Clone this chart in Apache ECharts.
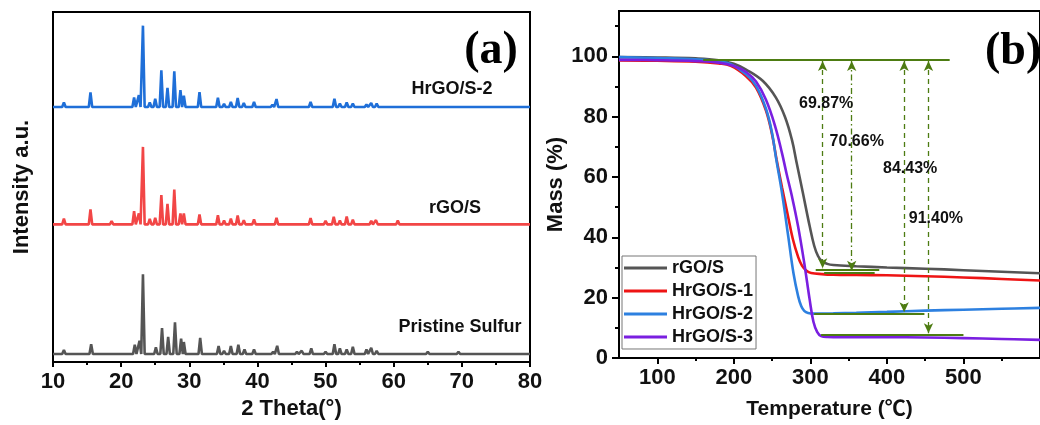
<!DOCTYPE html>
<html>
<head>
<meta charset="utf-8">
<script src="https://cdn.jsdelivr.net/npm/echarts@6/dist/echarts.min.js"></script>
<style>
  html, body { margin: 0; padding: 0; background: #fff; }
  #chart { width: 1040px; height: 425px; }
</style>
</head>
<body>
<div id="chart"></div>
<script>
// ---------- Panel (a): XRD patterns (2θ in degrees, peak intensity in a.u.) ----------
const sulfurPeaks2Theta = [11.6, 15.6, 18.7, 22.0, 22.7, 23.2, 25.1, 26.0, 26.9, 27.9, 28.8, 29.2, 31.6, 34.3, 35.1, 36.1, 37.2, 38.1, 39.5, 42.3, 42.9, 45.8, 46.5, 47.9, 50.0, 51.3, 52.1, 53.1, 54.0, 56.0, 56.7, 57.5, 59.5, 65.0, 69.5];
const sulfurPeakInt     = [4, 9.7, 1.7, 9.3, 13.3, 80, 6.7, 26, 17.3, 31.7, 15.3, 12, 16.3, 8, 3.3, 8, 9.3, 4.7, 4.7, 2.3, 8.3, 2.3, 3.3, 5.7, 2.3, 9.7, 5.7, 4.7, 7.3, 4.7, 6.3, 3.3, 1.5, 2.3, 2.3];

const rgoPeaks2Theta = [11.6, 15.5, 18.6, 21.9, 22.6, 23.2, 24.2, 25.0, 25.9, 26.8, 27.8, 28.7, 29.2, 31.5, 34.2, 35.1, 36.1, 37.1, 38.0, 39.5, 42.8, 45.7, 47.8, 50.0, 51.2, 52.1, 53.1, 54.0, 56.7, 57.4, 60.6, 65.8, 69.3];
const rgoPeakInt     = [5.7, 15, 3.3, 13.3, 11, 77.7, 5.5, 6.7, 29.3, 20.7, 35, 11, 11, 10, 9.3, 4, 5.7, 9, 4.3, 5, 6.7, 2, 6.3, 3.7, 7.7, 4, 8, 4.7, 3.7, 4.3, 4, 1.5, 1.5];

const hrgoPeaks2Theta = [11.6, 15.5, 18.6, 21.9, 22.6, 23.2, 24.2, 25.0, 25.9, 26.8, 27.8, 28.7, 29.2, 31.5, 34.2, 35.1, 36.1, 37.1, 38.0, 39.5, 42.2, 42.8, 44.6, 46.1, 47.8, 50.0, 51.3, 52.1, 53.1, 54.0, 56.0, 56.7, 57.5, 65.0];
const hrgoPeakInt     = [4.7, 14.7, 2, 9.7, 12, 81.6, 4.7, 8.3, 36.7, 19.3, 35.7, 17, 11.3, 15, 9.3, 3.3, 5, 9, 4, 5, 2.3, 8, 2, 2, 5, 2, 8.3, 3.5, 4.7, 3.5, 2.5, 4, 3.5, 1.5];

// vertical stacking of the three patterns
const xrdBaseSulfur = 8;
const xrdBaseRgo = 138;
const xrdBaseHrgo = 255.7;

// ---------- Panel (b): TGA curves [temperature (°C), mass (%)] ----------
const tgaRGO = [[50,99.7],[100,99.6],[150,99.3],[180,98.7],[200,97.5],[216,95.6],[238,91.8],[255,86.3],[267,79.8],[276,72.2],[282,64.8],[290,55.0],[299,43.8],[305,37.2],[310,33.8],[315,32.1],[322,31.2],[330,30.8],[360,30.4],[400,30.0],[450,29.6],[500,29.1],[550,28.6],[600,28.1]];
const tgaHrGO1 = [[50,98.6],[100,98.5],[150,98.2],[180,97.6],[196,96.8],[216,93.4],[229,89.6],[242,82.0],[250,74.0],[256,65.6],[263,56.5],[270,48.0],[277,39.5],[284,33.5],[289,30.6],[295,28.9],[301,28.2],[315,27.8],[330,27.6],[360,27.5],[400,27.4],[450,27.1],[500,26.7],[550,26.2],[600,25.7]];
const tgaHrGO2 = [[50,99.7],[100,99.4],[150,99.0],[180,98.3],[196,97.4],[216,94.0],[229,90.2],[242,82.6],[250,74.5],[255,66.5],[263,54.6],[271,40.5],[278,28.0],[284,20.5],[288,17.2],[292,15.6],[297,14.9],[305,14.7],[330,14.8],[360,15.0],[400,15.3],[450,15.7],[500,16.0],[550,16.3],[600,16.6]];
const tgaHrGO3 = [[50,98.8],[100,98.7],[150,98.4],[180,97.9],[200,96.8],[216,94.8],[229,91.6],[242,85.6],[254,76.8],[263,67.8],[269,61.0],[276,53.5],[284,43.6],[292,31.5],[299,19.5],[304,12.0],[309,8.6],[314,7.3],[322,7.0],[360,6.9],[400,6.9],[450,6.8],[500,6.6],[550,6.3],[600,6.0]];

// mass-loss annotations
const lossLabels = ['69.87%', '70.66%', '84.43%', '91.40%'];
const lossValues = [69.87, 70.66, 84.43, 91.40];
const startMass = 99;
const arrowTemps = [316, 354, 422.5, 454.3];
const plateauFrom = [307, 318, 305, 314];
const plateauTo = [390, 384, 449, 500];
const labelTemps = [320.7, 360.6, 430.4, 464];
const labelMass = [84.3, 71.8, 62.9, 46.1];

// ---------- helpers ----------
// each reflection drawn as a narrow peak on the pattern's baseline
function pattern(pos, inten, base) {
  const pts = [[10, base]];
  pos.forEach((p, i) => {
    pts.push([p - 0.25, base], [p, base + inten[i]], [p + 0.25, base]);
  });
  pts.push([80, base]);
  return pts;
}

const FONT = "'Liberation Sans', Arial, 'Noto Sans CJK SC', sans-serif";
const GREEN = '#4d7c12';
const boldText = (size) => ({ fontFamily: FONT, fontWeight: 'bold', fontSize: size, color: '#111' });

const arrowLines = arrowTemps.map((t, i) => {
  const style = { color: GREEN, width: 1.3, type: i === 1 ? [6, 3, 1.5, 3] : [5, 4] };
  return [
    { coord: [t, startMass - 0.6], symbol: 'arrow', symbolSize: [7, 10], lineStyle: style },
    { coord: [t, startMass - lossValues[i] + 0.6], symbol: 'arrow', symbolSize: [7, 10] }
  ];
});
const plateauLines = plateauFrom.map((t, i) => [
  { coord: [t, startMass - lossValues[i]], symbol: 'none', lineStyle: { color: GREEN, width: 2, type: 'solid' } },
  { coord: [plateauTo[i], startMass - lossValues[i]], symbol: 'none' }
]);
const topLine = [[
  { coord: [160, startMass], symbol: 'none', lineStyle: { color: GREEN, width: 2, type: 'solid' } },
  { coord: [482, startMass], symbol: 'none' }
]];

const chart = echarts.init(document.getElementById('chart'), null, { renderer: 'canvas' });

const tgaLine = (name, data, color) => ({
  type: 'line', name, xAxisIndex: 1, yAxisIndex: 1, showSymbol: false, smooth: 0.4,
  data, lineStyle: { color, width: 2.6 }, itemStyle: { color }
});
const xrdLine = (name, data, color) => ({
  type: 'line', name, xAxisIndex: 0, yAxisIndex: 0, showSymbol: false,
  data, lineStyle: { color, width: 2.6 }, itemStyle: { color }
});

chart.setOption({
  animation: false,
  backgroundColor: '#fff',
  grid: [
    { left: 53, right: 510, top: 12, bottom: 62, show: true, borderColor: '#000', borderWidth: 2, backgroundColor: 'transparent' },
    { left: 619, width: 433, top: 11, bottom: 66, show: true, borderColor: '#000', borderWidth: 2, backgroundColor: 'transparent' }
  ],
  xAxis: [
    {
      gridIndex: 0, type: 'value', min: 10, max: 80, interval: 10,
      name: '2 Theta(°)', nameLocation: 'middle', nameGap: 36, nameTextStyle: boldText(22),
      axisLine: { show: true, onZero: false, lineStyle: { color: '#000', width: 2 } },
      axisTick: { show: true, inside: false, length: 5, lineStyle: { color: '#000', width: 2 } },
      minorTick: { show: true, splitNumber: 2, length: 3, lineStyle: { color: '#000', width: 2 } },
      axisLabel: Object.assign({ margin: 9 }, boldText(22)),
      splitLine: { show: false }
    },
    {
      gridIndex: 1, type: 'value', min: 50, max: 600,
      name: 'Temperature (℃)', nameLocation: 'middle', nameGap: 41, nameTextStyle: boldText(21),
      axisLine: { show: true, onZero: false, lineStyle: { color: '#000', width: 2 } },
      axisTick: { show: true, length: 6, customValues: [100, 200, 300, 400, 500], lineStyle: { color: '#000', width: 2 } },
      axisLabel: Object.assign({ margin: 9, customValues: [100, 200, 300, 400, 500] }, boldText(22)),
      splitLine: { show: false }
    },
    {
      gridIndex: 1, type: 'value', min: 50, max: 600, position: 'bottom',
      axisLine: { show: false },
      axisTick: { show: true, length: 3, customValues: [150, 250, 350, 450, 550], lineStyle: { color: '#000', width: 2 } },
      axisLabel: { show: false },
      splitLine: { show: false }
    }
  ],
  yAxis: [
    {
      gridIndex: 0, type: 'value', min: 0, max: 351,
      name: 'Intensity a.u.', nameLocation: 'middle', nameGap: 20, nameTextStyle: boldText(22),
      axisLine: { show: true, onZero: false, lineStyle: { color: '#000', width: 2 } },
      axisTick: { show: false }, axisLabel: { show: false }, splitLine: { show: false }
    },
    {
      gridIndex: 1, type: 'value', min: 0, max: 115, position: 'left',
      name: 'Mass (%)', nameLocation: 'middle', nameGap: 50, nameTextStyle: boldText(22),
      axisLine: { show: true, onZero: false, lineStyle: { color: '#000', width: 2 } },
      axisTick: { show: true, length: 7, customValues: [0, 20, 40, 60, 80, 100], lineStyle: { color: '#000', width: 2 } },
      axisLabel: Object.assign({ margin: 11, customValues: [0, 20, 40, 60, 80, 100] }, boldText(22)),
      splitLine: { show: false }
    },
    {
      gridIndex: 1, type: 'value', min: 0, max: 115, position: 'left', offset: 0,
      axisLine: { show: false },
      axisTick: { show: true, length: 4, customValues: [10, 30, 50, 70, 90, 110], lineStyle: { color: '#000', width: 2 } },
      axisLabel: { show: false },
      splitLine: { show: false }
    }
  ],
  legend: {
    data: ['rGO/S', 'HrGO/S-1', 'HrGO/S-2', 'HrGO/S-3'],
    orient: 'vertical', left: 622, top: 256,
    icon: 'rect', itemWidth: 43, itemHeight: 3, itemGap: 5,
    padding: [3, 3, 3, 2],
    borderColor: '#777', borderWidth: 1,
    textStyle: boldText(18)
  },
  series: [
    xrdLine('Pristine Sulfur', pattern(sulfurPeaks2Theta, sulfurPeakInt, xrdBaseSulfur), '#555555'),
    xrdLine('rGO/S (XRD)', pattern(rgoPeaks2Theta, rgoPeakInt, xrdBaseRgo), '#f24646'),
    xrdLine('HrGO/S-2 (XRD)', pattern(hrgoPeaks2Theta, hrgoPeakInt, xrdBaseHrgo), '#1f6fd8'),

    tgaLine('rGO/S', tgaRGO, '#555555'),
    tgaLine('HrGO/S-1', tgaHrGO1, '#ee1414'),
    tgaLine('HrGO/S-2', tgaHrGO2, '#2d80e0'),
    tgaLine('HrGO/S-3', tgaHrGO3, '#7a1fe0'),

    {
      type: 'scatter', name: 'loss', xAxisIndex: 1, yAxisIndex: 1, z: 5,
      symbolSize: 2, itemStyle: { color: 'rgba(0,0,0,0)', opacity: 1 }, silent: true,
      data: lossLabels.map((txt, i) => ({ value: [labelTemps[i], labelMass[i]], name: txt })),
      label: { show: true, position: 'inside', formatter: (p) => p.name, fontFamily: FONT, fontWeight: 'bold', fontSize: 16, color: '#111', opacity: 1, textBorderWidth: 0 },
      markLine: {
        silent: true, animation: false,
        label: { show: false },
        emphasis: { disabled: true },
        data: topLine.concat(plateauLines, arrowLines)
      }
    }
  ],
  graphic: [
    { type: 'text', x: 452, y: 89, style: { text: 'HrGO/S-2', textAlign: 'center', textVerticalAlign: 'middle', fill: '#111', font: `bold 18px ${FONT}` } },
    { type: 'text', x: 455, y: 208, style: { text: 'rGO/S', textAlign: 'center', textVerticalAlign: 'middle', fill: '#111', font: `bold 18px ${FONT}` } },
    { type: 'text', x: 460, y: 327, style: { text: 'Pristine Sulfur', textAlign: 'center', textVerticalAlign: 'middle', fill: '#111', font: `bold 18px ${FONT}` } },
    { type: 'text', x: 491, y: 51, style: { text: '(a)', textAlign: 'center', textVerticalAlign: 'middle', fill: '#000', font: "bold 46px 'Liberation Serif', 'Times New Roman', serif" } },
    { type: 'text', x: 985, y: 52, style: { text: '(b)', textAlign: 'left', textVerticalAlign: 'middle', fill: '#000', font: "bold 46px 'Liberation Serif', 'Times New Roman', serif" } }
  ]
});
</script>
</body>
</html>
